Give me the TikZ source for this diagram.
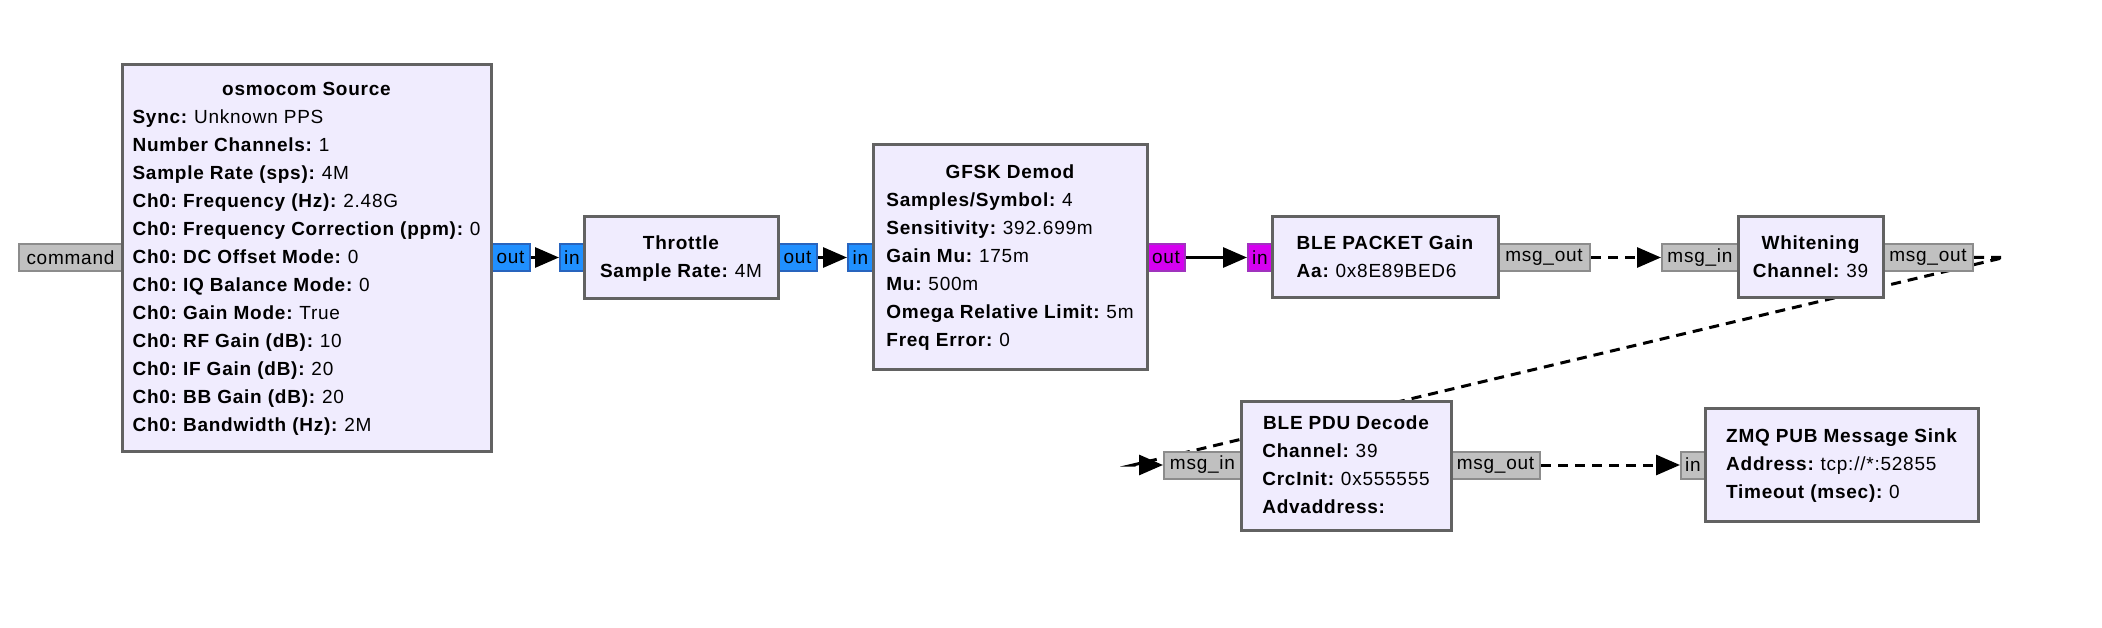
\documentclass[tikz,border=0pt]{standalone}
\usepackage{fontspec}
\setmainfont{Liberation Sans}[LetterSpace=4]
\usetikzlibrary{arrows.meta,backgrounds}
\definecolor{blkfill}{RGB}{240,236,254}
\definecolor{blkdraw}{RGB}{98,98,98}
\definecolor{cplxfill}{RGB}{32,144,255}
\definecolor{cplxdraw}{RGB}{40,100,190}
\definecolor{bytefill}{RGB}{214,0,240}
\definecolor{bytedraw}{RGB}{160,50,190}
\definecolor{msgfill}{RGB}{192,192,192}
\definecolor{msgdraw}{RGB}{140,140,140}
\newcommand\kv[2]{\textbf{#1:} #2}
\newcommand\ttl[1]{\multicolumn{1}{@{}c@{}}{\bfseries #1}}
\frenchspacing
\begin{document}
\begin{tikzpicture}[x=1pt,y=-1pt,
  blk/.style={draw=blkdraw, fill=blkfill, line width=3pt, inner sep=0pt,
    font=\fontsize{19}{28}\selectfont},
  port/.style={line width=2pt, inner sep=0pt, minimum height=27pt,
    font=\fontsize{19}{20}\selectfont},
  cplx/.style={port, fill=cplxfill, draw=cplxdraw},
  byteport/.style={port, fill=bytefill, draw=bytedraw},
  msgport/.style={port, fill=msgfill, draw=msgdraw},
  conn/.style={line width=3pt, -{Triangle[length=24pt,width=20pt]}},
  dconn/.style={conn, dash pattern=on 10pt off 7pt}]
\useasboundingbox (0,0) rectangle (2102,628);

% ports
\node[msgport, minimum width=103pt] (cmd) at (70.5,257.5) {command};
\node[cplx, minimum width=39pt] (oout) at (510.5,257.5) {out};
\node[cplx, minimum width=24pt] (tin) at (572,257.5) {in};
\node[cplx, minimum width=39pt] (tout) at (797.5,257.5) {out};
\node[cplx, minimum width=25pt] (gin) at (860.5,257.5) {in};
\node[byteport, minimum width=38pt] (gout) at (1166,257.5) {out};
\node[byteport, minimum width=24pt] (bin) at (1260,257.5) {in};
\node[msgport, minimum width=92pt] (bout) at (1544,257.5) {msg\_out};
\node[msgport, minimum width=76pt] (win) at (1700,257.5) {msg\_in};
\node[msgport, minimum width=90pt] (wout) at (1928,257.5) {msg\_out};
\node[msgport, minimum width=77pt] (pin) at (1202.5,465) {msg\_in};
\node[msgport, minimum width=89pt] (pout) at (1495.5,465) {msg\_out};
\node[msgport, minimum width=24pt] (zin) at (1693,465) {in};

% blocks
\node[blk, minimum width=369pt, minimum height=386pt] (osm) at (306.5,258) {%
  \begin{tabular}{@{}l@{}}
  \ttl{osmocom Source}\\
  \kv{Sync}{Unknown PPS}\\
  \kv{Number Channels}{1}\\
  \kv{Sample Rate (sps)}{4M}\\
  \kv{Ch0: Frequency (Hz)}{2.48G}\\
  \kv{Ch0: Frequency Correction (ppm)}{0}\\
  \kv{Ch0: DC Offset Mode}{0}\\
  \kv{Ch0: IQ Balance Mode}{0}\\
  \kv{Ch0: Gain Mode}{True}\\
  \kv{Ch0: RF Gain (dB)}{10}\\
  \kv{Ch0: IF Gain (dB)}{20}\\
  \kv{Ch0: BB Gain (dB)}{20}\\
  \kv{Ch0: Bandwidth (Hz)}{2M}
  \end{tabular}};
\node[blk, minimum width=194pt, minimum height=82pt] (thr) at (681,258) {%
  \begin{tabular}{@{}l@{}}
  \ttl{Throttle}\\
  \kv{Sample Rate}{4M}
  \end{tabular}};
\node[blk, minimum width=274pt, minimum height=224pt] (gfsk) at (1010,257) {%
  \begin{tabular}{@{}l@{}}
  \ttl{GFSK Demod}\\
  \kv{Samples/Symbol}{4}\\
  \kv{Sensitivity}{392.699m}\\
  \kv{Gain Mu}{175m}\\
  \kv{Mu}{500m}\\
  \kv{Omega Relative Limit}{5m}\\
  \kv{Freq Error}{0}
  \end{tabular}};
\node[blk, minimum width=226pt, minimum height=81pt] (ble) at (1385,257.5) {%
  \begin{tabular}{@{}l@{}}
  \ttl{BLE PACKET Gain}\\
  \kv{Aa}{0x8E89BED6}
  \end{tabular}};
\node[blk, minimum width=145pt, minimum height=81pt] (whit) at (1810.5,257.5) {%
  \begin{tabular}{@{}l@{}}
  \ttl{Whitening}\\
  \kv{Channel}{39}
  \end{tabular}};
\node[blk, minimum width=210pt, minimum height=129pt] (pdu) at (1346,465.5) {%
  \begin{tabular}{@{}l@{}}
  \ttl{BLE PDU Decode}\\
  \kv{Channel}{39}\\
  \kv{CrcInit}{0x555555}\\
  \kv{Advaddress}{}
  \end{tabular}};
\node[blk, minimum width=273pt, minimum height=113pt] (zmq) at (1841.5,464.5) {%
  \begin{tabular}{@{}l@{}}
  \ttl{ZMQ PUB Message Sink}\\
  \kv{Address}{tcp://*:52855}\\
  \kv{Timeout (msec)}{0}
  \end{tabular}};

% connectors (behind the blocks)
\begin{scope}[on background layer]
\fill[white] (0,0) rectangle (2102,628);
\draw[conn] (oout.east) -- (tin.west);
\draw[conn] (tout.east) -- (gin.west);
\draw[conn] (gout.east) -- (bin.west);
\draw[dconn] (bout.east) -- (win.west);
\draw[dconn] (wout.east) -- ++(30,0) -- ([xshift=-30pt]pin.west) -- (pin.west);
\draw[dconn] (pout.east) -- (zin.west);
\end{scope}
\end{tikzpicture}
\end{document}
